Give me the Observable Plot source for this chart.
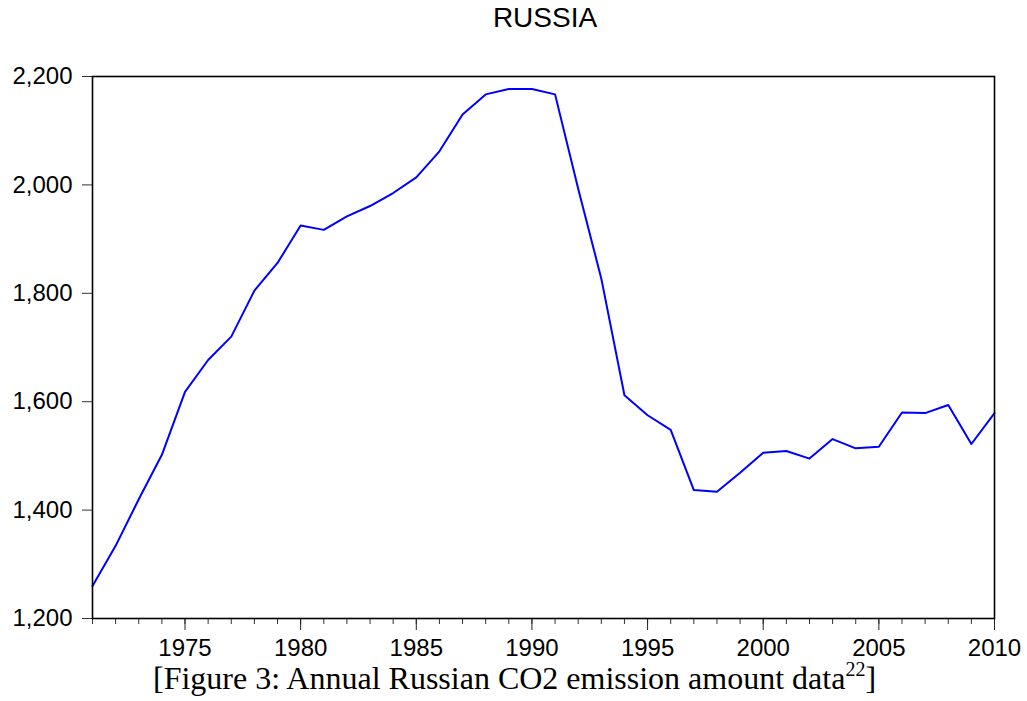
<!DOCTYPE html>
<html>
<head>
<meta charset="utf-8">
<script src="https://cdn.jsdelivr.net/npm/d3@7"></script>
<script src="https://cdn.jsdelivr.net/npm/@observablehq/plot@0.6"></script>
<style>
  html, body { margin: 0; padding: 0; background: #fff; }
  #wrap { position: relative; width: 1027px; height: 701px; overflow: hidden; background: #fff; }
  #chart { position: absolute; left: 0; top: 0; }
  #chart svg { background: transparent !important; }
  #title { position: absolute; left: 545px; top: 2px; transform: translateX(-50%);
           font-family: "Liberation Sans", Arial, sans-serif; font-size: 28px; color: #000; white-space: nowrap; }
  #caption { position: absolute; left: 153px; top: 661px; font-family: "Liberation Serif", "Times New Roman", serif;
             font-size: 32px; line-height: 34px; color: #000; white-space: nowrap; }
  #caption sup { font-size: 20px; vertical-align: 0; position: relative; top: -13px; }
</style>
</head>
<body>
<div id="wrap">
  <div id="chart"></div>
  <div id="title">RUSSIA</div>
  <div id="caption">[Figure 3: Annual Russian CO2 emission amount data<sup>22</sup>]</div>
</div>
<script>
const years = [1971,1972,1973,1974,1975,1976,1977,1978,1979,1980,
               1981,1982,1983,1984,1985,1986,1987,1988,1989,1990,
               1991,1992,1993,1994,1995,1996,1997,1998,1999,2000,
               2001,2002,2003,2004,2005,2006,2007,2008,2009,2010];
const emissions = [1260,1334,1420,1502,1618,1677,1720,1805,1856,1925,
                   1917,1942,1961,1985,2014,2062,2130,2167,2177,2177,
                   2167,1993,1827,1612,1575,1548,1437,1434,1469,1506,
                   1509,1495,1531,1514,1517,1580,1579,1594,1522,1579];
const yTicks = [1200,1400,1600,1800,2000,2200];
const xTicks = [1975,1980,1985,1990,1995,2000,2005,2010];

const data = years.map((y, i) => ({year: y, value: emissions[i]}));

const chart = Plot.plot({
  width: 1027,
  height: 662,
  marginLeft: 92,
  marginRight: 33,
  marginTop: 76,
  marginBottom: 44,
  style: {fontFamily: "Liberation Sans, Arial, sans-serif", fontSize: "24px", background: "transparent", color: "black", overflow: "visible"},
  x: {domain: [1971, 2010]},
  y: {domain: [1200, 2200]},
  marks: [
    Plot.axisY({ticks: yTicks, tickFormat: d3.format(","), tickSize: 10, tickPadding: 10, fontSize: 24, label: null, stroke: "#333"}),
    Plot.axisX({ticks: years, tickSize: 6, tickFormat: () => "", label: null, stroke: "#333"}),
    Plot.axisX({ticks: xTicks, tickSize: 12, tickPadding: 8, tickFormat: d => String(d), fontSize: 24, label: null, stroke: "#222"}),
    Plot.line(data, {x: "year", y: "value", stroke: "#0000ff", strokeWidth: 2}),
    Plot.frame({stroke: "black", strokeWidth: 1.6})
  ]
});
document.getElementById("chart").appendChild(chart);
</script>
</body>
</html>
